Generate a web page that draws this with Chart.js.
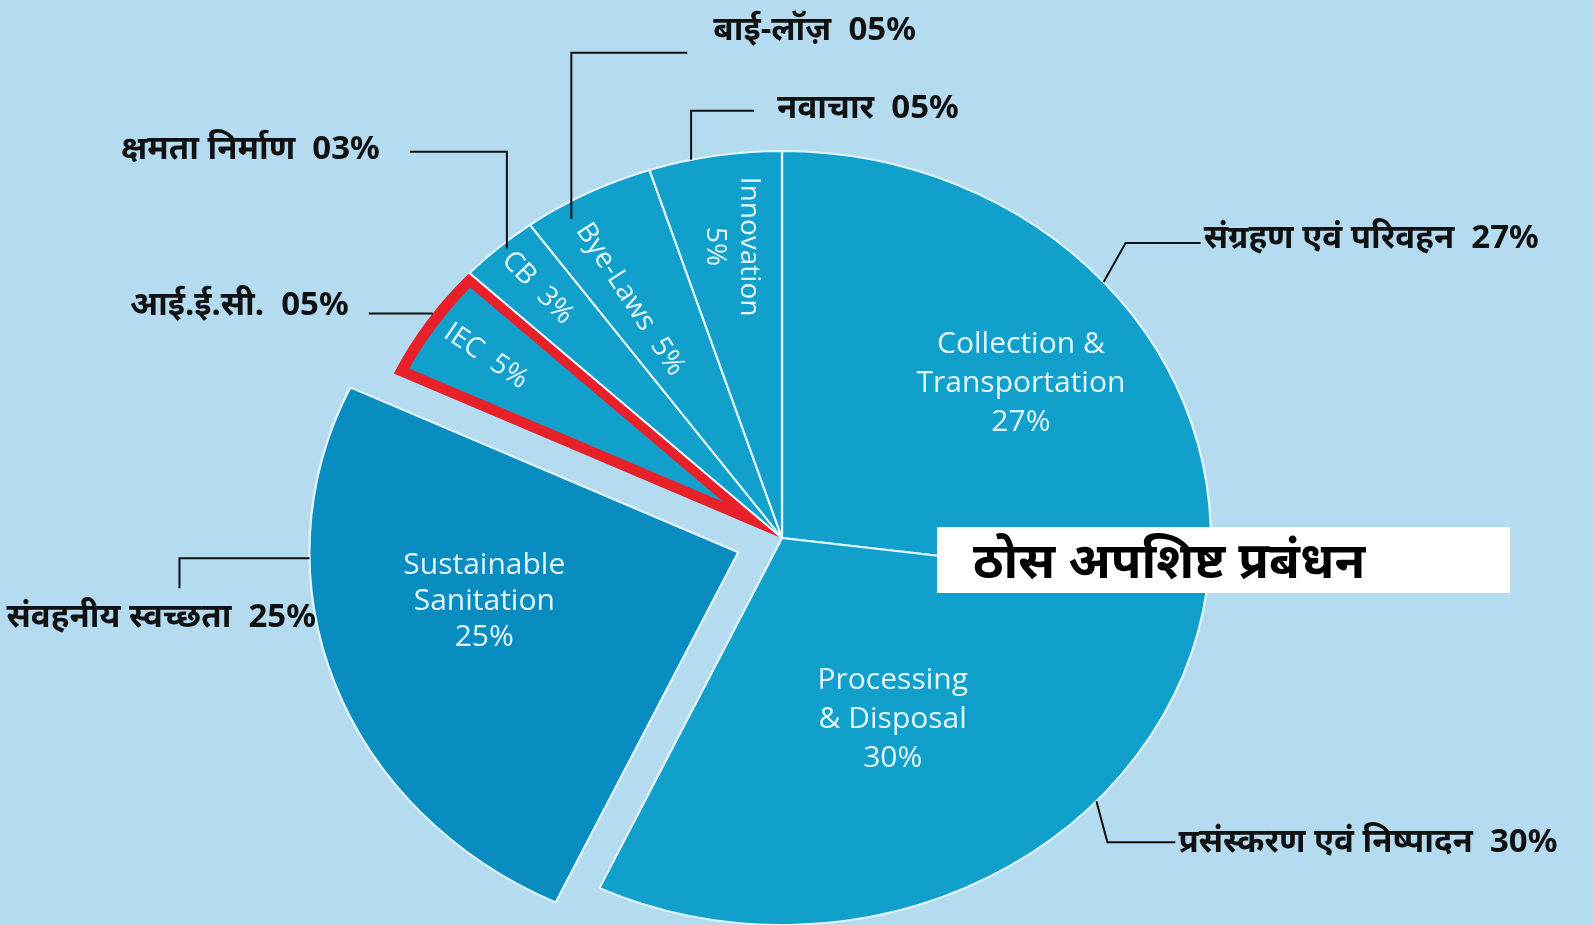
<!DOCTYPE html>
<html>
<head>
<meta charset="utf-8">
<script src="https://cdn.jsdelivr.net/npm/chart.js@4.4.1/dist/chart.umd.min.js"></script>
<style>
  html, body { margin: 0; padding: 0; background: #b4dbef; }
  #wrap { position: relative; width: 1593px; height: 925px; overflow: hidden; }
  #title {
    position: absolute; left: 937px; top: 527px; width: 573px; height: 66px;
    background: #fff; color: #000; box-sizing: border-box; padding-left: 36px;
    font: bold 50px "Noto Sans", sans-serif; line-height: 64px; white-space: nowrap;
  }
</style>
</head>
<body>
<div id="wrap">
  <canvas id="pie"></canvas>
  <div id="title">ठोस अपशिष्ट प्रबंधन</div>
</div>
<script>
// data, clockwise from 12 o'clock
const categories = ['Collection &\nTransportation', 'Processing\n& Disposal', 'Sustainable\nSanitation', 'IEC', 'CB', 'Bye-Laws', 'Innovation'];
const shares = [27, 30, 25, 5, 3, 5, 5];
const hindiNames = ['संग्रहण एवं परिवहन', 'प्रसंस्करण एवं निष्पादन', 'संवहनीय स्वच्छता', 'आई.ई.सी.', 'क्षमता निर्माण', 'बाई-लॉज़', 'नवाचार'];

// the source pie is a bit wider than tall
const STRETCH = 1.108;

const sliceColors = ['#11a0cc', '#11a0cc', '#098cc0', '#11a0cc', '#11a0cc', '#11a0cc', '#11a0cc'];
const edgeColors = ['#e2f6ff', '#e2f6ff', '#e2f6ff', '#e8202a', '#e2f6ff', '#e2f6ff', '#e2f6ff'];
const edgeWidths = [2, 2, 2, 10, 2, 2, 2];
const edgeAligns = ['center', 'center', 'center', 'inner', 'center', 'center', 'center'];
const offsets = [0, 0, 168, 0, 0, 0, 0];

// t = position inside the slice (0..1), r = fraction of radius, rot in degrees
const insideStyle = [
  { t: 0.56, r: 0.685, rot: 0, size: 30, lh: 39, pctBreak: true },
  { t: 0.50, r: 0.536, rot: 0, size: 30, lh: 39, pctBreak: true },
  { t: 0.584, r: 0.606, rot: 0, size: 30, lh: 36, pctBreak: true },
  { t: 0.50, r: 0.835, rot: 34, size: 28, lh: 34, pctBreak: false },
  { t: 0.50, r: 0.862, rot: 46, size: 28, lh: 34, pctBreak: false },
  { t: 0.34, r: 0.711, rot: 57, size: 28, lh: 34, pctBreak: false },
  { t: 0.51, r: 0.762, rot: 90, size: 28, lh: 34, pctBreak: true }
];

// leader lines: start on the slice, then elbows relative to the start
const calloutStyle = [
  { t: 0.50, r: 1.0, path: [[22, -39], [97, -39]], text: [100, -43], align: 'left' },
  { t: 0.33, r: 1.0, path: [[11, 41], [79, 41]], text: [82, 41], align: 'left' },
  { t: 0.71, r: 1.0, path: [[-130, 0], [-130, 30]], text: [-303, 59], align: 'left' },
  { t: 0.57, r: 1.0, path: [[-64, 0]], text: [-84, -8], align: 'right' },
  { t: 0.57, r: 0.985, path: [[0, -97], [-97, -97]], text: [-127, -99], align: 'right' },
  { t: 0.29, r: 0.96, path: [[0, -166], [116, -166]], text: [142, -188], align: 'left' },
  { t: 0.32, r: 1.0, path: [[0, -49], [63, -49]], text: [86, -51], align: 'left' }
];

function centerX(chart) {
  return (chart.chartArea.left + chart.chartArea.right) / 2;
}

// same shift the arc element applies when it draws an offset slice
function sliceShift(arc, mid, circ) {
  const off = (arc.options.offset || 0) / 4;
  const fix = 1 - Math.sin(Math.min(Math.PI, circ));
  return off * (1 + fix);
}

function arcPoint(chart, arc, t, rf) {
  const p = arc.getProps(['x', 'y', 'startAngle', 'endAngle', 'outerRadius', 'circumference'], true);
  const a = p.startAngle + t * (p.endAngle - p.startAngle);
  const mid = (p.startAngle + p.endAngle) / 2;
  const shift = sliceShift(arc, mid, p.circumference);
  const x = p.x + Math.cos(mid) * shift + Math.cos(a) * p.outerRadius * rf;
  const y = p.y + Math.sin(mid) * shift + Math.sin(a) * p.outerRadius * rf;
  const cx = centerX(chart);
  return [cx + (x - cx) * STRETCH, y];
}

const stretchPlugin = {
  id: 'stretch',
  beforeDatasetsDraw(chart) {
    const ctx = chart.ctx;
    const cx = centerX(chart);
    ctx.save();
    ctx.translate(cx, 0);
    ctx.scale(STRETCH, 1);
    ctx.translate(-cx, 0);
  },
  afterDatasetsDraw(chart) {
    chart.ctx.restore();
  }
};

const labelPlugin = {
  id: 'sliceLabels',
  afterDraw(chart) {
    const ctx = chart.ctx;
    const arcs = chart.getDatasetMeta(0).data;
    arcs.forEach((arc, i) => {
      // text inside the slice
      const s = insideStyle[i];
      const [x, y] = arcPoint(chart, arc, s.t, s.r);
      const pct = shares[i] + '%';
      let lines = categories[i].split('\n');
      if (s.pctBreak) lines.push(pct);
      else lines[lines.length - 1] += '  ' + pct;
      ctx.save();
      ctx.translate(x, y);
      ctx.rotate(s.rot * Math.PI / 180);
      ctx.fillStyle = '#e4f6ff';
      ctx.font = s.size + 'px "Open Sans", sans-serif';
      ctx.textAlign = 'center';
      ctx.textBaseline = 'middle';
      lines.forEach((ln, k) => {
        ctx.fillText(ln, 0, (k - (lines.length - 1) / 2) * s.lh);
      });
      ctx.restore();

      // Hindi callout with leader line
      const c = calloutStyle[i];
      const [ax, ay] = arcPoint(chart, arc, c.t, c.r);
      ctx.save();
      ctx.strokeStyle = '#111';
      ctx.lineWidth = 2;
      ctx.beginPath();
      ctx.moveTo(ax, ay);
      c.path.forEach(([dx, dy]) => ctx.lineTo(ax + dx, ay + dy));
      ctx.stroke();
      ctx.fillStyle = '#111';
      ctx.font = 'bold 33px "Noto Sans", sans-serif';
      ctx.textAlign = c.align;
      ctx.textBaseline = 'middle';
      const hindiPct = String(shares[i]).padStart(2, '0') + '%';
      ctx.fillText(hindiNames[i] + '  ' + hindiPct, ax + c.text[0], ay + c.text[1]);
      ctx.restore();
    });
  }
};

new Chart(document.getElementById('pie'), {
  type: 'pie',
  data: {
    labels: categories,
    datasets: [{
      data: shares,
      backgroundColor: sliceColors,
      borderColor: edgeColors,
      borderWidth: edgeWidths,
      borderAlign: edgeAligns,
      offset: offsets,
      radius: 387,
      clip: false
    }]
  },
  options: {
    responsive: true,
    maintainAspectRatio: false,
    animation: false,
    events: [],
    layout: { padding: { top: 151, bottom: 0, left: 300, right: 329 } },
    plugins: {
      legend: { display: false },
      tooltip: { enabled: false }
    }
  },
  plugins: [stretchPlugin, labelPlugin]
});
</script>
</body>
</html>
